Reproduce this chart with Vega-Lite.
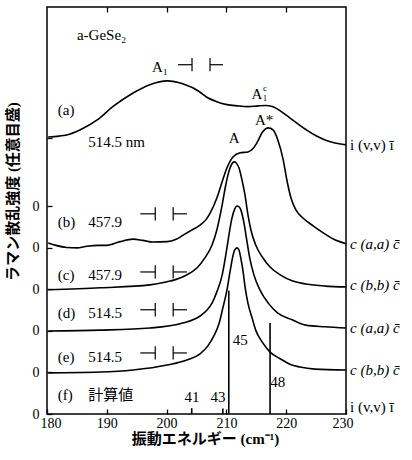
{
  "$schema": "https://vega.github.io/schema/vega-lite/v6.json",
  "width": 299,
  "height": 407,
  "autosize": {"type": "none"},
  "padding": {"left": 47, "top": 7, "right": 66, "bottom": 46},
  "config": {
    "view": {"stroke": "black", "strokeWidth": 1.5},
    "font": "Liberation Serif",
    "axis": {"domain": false, "grid": false, "labelFlush": false, "tickColor": "black", "tickWidth": 1.3, "labelColor": "black", "labelFont": "Liberation Serif", "labelFontSize": 14, "titleColor": "black", "titleFont": "Liberation Serif, Noto Sans CJK JP", "titleFontSize": 15, "titleFontWeight": "bold"},
    "text": {"color": "black"}
  },
  "datasets": {
    "spectra": [
      {"s": "a", "x": 180.2, "y": 6.67}, {"s": "a", "x": 182.0, "y": 6.69}, {"s": "a", "x": 183.3, "y": 6.72}, {"s": "a", "x": 185.5, "y": 6.84}, {"s": "a", "x": 188.4, "y": 7.08}, {"s": "a", "x": 191.0, "y": 7.40}, {"s": "a", "x": 194.4, "y": 7.73}, {"s": "a", "x": 197.2, "y": 7.93}, {"s": "a", "x": 200.1, "y": 8.02}, {"s": "a", "x": 202.7, "y": 7.95}, {"s": "a", "x": 205.5, "y": 7.76}, {"s": "a", "x": 206.6, "y": 7.64}, {"s": "a", "x": 208.4, "y": 7.52}, {"s": "a", "x": 210.1, "y": 7.45}, {"s": "a", "x": 211.8, "y": 7.42}, {"s": "a", "x": 213.6, "y": 7.40}, {"s": "a", "x": 215.3, "y": 7.42}, {"s": "a", "x": 216.5, "y": 7.43}, {"s": "a", "x": 217.8, "y": 7.40}, {"s": "a", "x": 219.0, "y": 7.30}, {"s": "a", "x": 220.5, "y": 7.14}, {"s": "a", "x": 222.0, "y": 6.98}, {"s": "a", "x": 223.5, "y": 6.83}, {"s": "a", "x": 225.0, "y": 6.70}, {"s": "a", "x": 226.5, "y": 6.60}, {"s": "a", "x": 228.0, "y": 6.53}, {"s": "a", "x": 230.0, "y": 6.48},
      {"s": "b", "x": 180.2, "y": 4.12}, {"s": "b", "x": 181.5, "y": 4.06}, {"s": "b", "x": 183.3, "y": 4.01}, {"s": "b", "x": 185.0, "y": 4.00}, {"s": "b", "x": 186.7, "y": 4.04}, {"s": "b", "x": 188.5, "y": 4.06}, {"s": "b", "x": 190.0, "y": 4.06}, {"s": "b", "x": 192.2, "y": 4.15}, {"s": "b", "x": 194.4, "y": 4.21}, {"s": "b", "x": 196.0, "y": 4.18}, {"s": "b", "x": 197.7, "y": 4.14}, {"s": "b", "x": 200.1, "y": 4.15}, {"s": "b", "x": 201.5, "y": 4.20}, {"s": "b", "x": 202.7, "y": 4.30}, {"s": "b", "x": 204.1, "y": 4.42}, {"s": "b", "x": 205.6, "y": 4.55}, {"s": "b", "x": 206.6, "y": 4.68}, {"s": "b", "x": 207.3, "y": 4.84}, {"s": "b", "x": 208.4, "y": 5.20}, {"s": "b", "x": 209.3, "y": 5.60}, {"s": "b", "x": 210.1, "y": 5.93}, {"s": "b", "x": 211.1, "y": 6.19}, {"s": "b", "x": 212.3, "y": 6.29}, {"s": "b", "x": 213.6, "y": 6.31}, {"s": "b", "x": 214.5, "y": 6.40}, {"s": "b", "x": 215.1, "y": 6.53}, {"s": "b", "x": 216.1, "y": 6.80}, {"s": "b", "x": 217.0, "y": 6.89}, {"s": "b", "x": 217.8, "y": 6.84}, {"s": "b", "x": 218.6, "y": 6.60}, {"s": "b", "x": 219.5, "y": 6.12}, {"s": "b", "x": 220.1, "y": 5.64}, {"s": "b", "x": 220.8, "y": 5.20}, {"s": "b", "x": 221.6, "y": 4.92}, {"s": "b", "x": 222.8, "y": 4.72}, {"s": "b", "x": 224.5, "y": 4.53}, {"s": "b", "x": 226.2, "y": 4.36}, {"s": "b", "x": 227.8, "y": 4.22}, {"s": "b", "x": 230.0, "y": 4.10},
      {"s": "c", "x": 180.2, "y": 2.99}, {"s": "c", "x": 188.9, "y": 3.04}, {"s": "c", "x": 197.2, "y": 3.11}, {"s": "c", "x": 200.6, "y": 3.20}, {"s": "c", "x": 203.1, "y": 3.33}, {"s": "c", "x": 205.1, "y": 3.52}, {"s": "c", "x": 206.4, "y": 3.76}, {"s": "c", "x": 207.6, "y": 4.07}, {"s": "c", "x": 208.4, "y": 4.43}, {"s": "c", "x": 209.3, "y": 5.04}, {"s": "c", "x": 209.9, "y": 5.52}, {"s": "c", "x": 210.4, "y": 5.83}, {"s": "c", "x": 210.9, "y": 6.02}, {"s": "c", "x": 211.3, "y": 6.07}, {"s": "c", "x": 211.6, "y": 6.05}, {"s": "c", "x": 212.1, "y": 5.93}, {"s": "c", "x": 212.6, "y": 5.64}, {"s": "c", "x": 213.1, "y": 5.28}, {"s": "c", "x": 213.6, "y": 4.80}, {"s": "c", "x": 214.1, "y": 4.43}, {"s": "c", "x": 214.9, "y": 4.07}, {"s": "c", "x": 216.0, "y": 3.78}, {"s": "c", "x": 217.3, "y": 3.54}, {"s": "c", "x": 219.0, "y": 3.35}, {"s": "c", "x": 221.1, "y": 3.20}, {"s": "c", "x": 223.3, "y": 3.13}, {"s": "c", "x": 226.5, "y": 3.08}, {"s": "c", "x": 230.0, "y": 3.06},
      {"s": "d", "x": 180.2, "y": 2.00}, {"s": "d", "x": 188.9, "y": 2.02}, {"s": "d", "x": 197.2, "y": 2.07}, {"s": "d", "x": 202.7, "y": 2.19}, {"s": "d", "x": 205.6, "y": 2.36}, {"s": "d", "x": 206.8, "y": 2.51}, {"s": "d", "x": 207.6, "y": 2.67}, {"s": "d", "x": 208.4, "y": 2.94}, {"s": "d", "x": 209.3, "y": 3.35}, {"s": "d", "x": 209.9, "y": 3.83}, {"s": "d", "x": 210.4, "y": 4.29}, {"s": "d", "x": 210.9, "y": 4.70}, {"s": "d", "x": 211.4, "y": 4.94}, {"s": "d", "x": 211.8, "y": 5.01}, {"s": "d", "x": 212.1, "y": 4.99}, {"s": "d", "x": 212.4, "y": 4.92}, {"s": "d", "x": 212.9, "y": 4.63}, {"s": "d", "x": 213.4, "y": 4.19}, {"s": "d", "x": 213.9, "y": 3.76}, {"s": "d", "x": 214.6, "y": 3.35}, {"s": "d", "x": 215.6, "y": 2.99}, {"s": "d", "x": 217.0, "y": 2.67}, {"s": "d", "x": 218.6, "y": 2.43}, {"s": "d", "x": 221.0, "y": 2.27}, {"s": "d", "x": 223.3, "y": 2.14}, {"s": "d", "x": 226.5, "y": 2.10}, {"s": "d", "x": 230.0, "y": 2.07},
      {"s": "e", "x": 180.2, "y": 0.99}, {"s": "e", "x": 188.9, "y": 1.01}, {"s": "e", "x": 194.4, "y": 1.06}, {"s": "e", "x": 200.1, "y": 1.18}, {"s": "e", "x": 203.4, "y": 1.30}, {"s": "e", "x": 205.6, "y": 1.45}, {"s": "e", "x": 206.9, "y": 1.64}, {"s": "e", "x": 207.9, "y": 1.88}, {"s": "e", "x": 208.8, "y": 2.19}, {"s": "e", "x": 209.4, "y": 2.55}, {"s": "e", "x": 210.1, "y": 2.99}, {"s": "e", "x": 210.6, "y": 3.42}, {"s": "e", "x": 211.1, "y": 3.81}, {"s": "e", "x": 211.4, "y": 3.95}, {"s": "e", "x": 211.8, "y": 4.00}, {"s": "e", "x": 212.1, "y": 3.95}, {"s": "e", "x": 212.4, "y": 3.76}, {"s": "e", "x": 212.8, "y": 3.42}, {"s": "e", "x": 213.1, "y": 3.08}, {"s": "e", "x": 213.6, "y": 2.67}, {"s": "e", "x": 214.3, "y": 2.31}, {"s": "e", "x": 214.9, "y": 2.02}, {"s": "e", "x": 216.0, "y": 1.73}, {"s": "e", "x": 217.3, "y": 1.49}, {"s": "e", "x": 219.0, "y": 1.33}, {"s": "e", "x": 220.6, "y": 1.20}, {"s": "e", "x": 222.3, "y": 1.13}, {"s": "e", "x": 224.8, "y": 1.08}, {"s": "e", "x": 230.0, "y": 1.06}
    ],
    "sticks": [
      {"x": 204.2, "y": 0, "h": 0.14}, {"x": 209.4, "y": 0, "h": 0.13}, {"x": 210.4, "y": 0, "h": 2.97}, {"x": 217.3, "y": 0, "h": 2.19}
    ],
    "brackets": [
      {"x": 201.9, "x2": 204.25, "y": 8.41, "y2": 8.41}, {"x": 204.25, "x2": 204.25, "y": 8.25, "y2": 8.57}, {"x": 207.26, "x2": 207.26, "y": 8.25, "y2": 8.57}, {"x": 207.26, "x2": 209.43, "y": 8.41, "y2": 8.41},
      {"x": 195.6, "x2": 198.1, "y": 4.82, "y2": 4.82}, {"x": 198.1, "x2": 198.1, "y": 4.66, "y2": 4.98}, {"x": 201.1, "x2": 201.1, "y": 4.66, "y2": 4.98}, {"x": 201.1, "x2": 203.4, "y": 4.82, "y2": 4.82},
      {"x": 195.6, "x2": 198.1, "y": 3.42, "y2": 3.42}, {"x": 198.1, "x2": 198.1, "y": 3.26, "y2": 3.58}, {"x": 201.1, "x2": 201.1, "y": 3.26, "y2": 3.58}, {"x": 201.1, "x2": 203.4, "y": 3.42, "y2": 3.42},
      {"x": 195.6, "x2": 198.1, "y": 2.51, "y2": 2.51}, {"x": 198.1, "x2": 198.1, "y": 2.35, "y2": 2.67}, {"x": 201.1, "x2": 201.1, "y": 2.35, "y2": 2.67}, {"x": 201.1, "x2": 203.4, "y": 2.51, "y2": 2.51},
      {"x": 195.6, "x2": 198.1, "y": 1.47, "y2": 1.47}, {"x": 198.1, "x2": 198.1, "y": 1.31, "y2": 1.63}, {"x": 201.1, "x2": 201.1, "y": 1.31, "y2": 1.63}, {"x": 201.1, "x2": 203.4, "y": 1.47, "y2": 1.47}
    ],
    "leftText": [
      {"x": 185.0, "y": 9.13, "t": "a-GeSe₂"},
      {"x": 181.8, "y": 7.33, "t": "(a)"}, {"x": 186.9, "y": 6.55, "t": "514.5 nm"},
      {"x": 181.8, "y": 4.63, "t": "(b)"}, {"x": 186.9, "y": 4.63, "t": "457.9"},
      {"x": 181.8, "y": 3.35, "t": "(c)"}, {"x": 186.9, "y": 3.35, "t": "457.9"},
      {"x": 181.8, "y": 2.43, "t": "(d)"}, {"x": 186.9, "y": 2.43, "t": "514.5"},
      {"x": 181.8, "y": 1.37, "t": "(e)"}, {"x": 186.9, "y": 1.37, "t": "514.5"},
      {"x": 181.8, "y": 0.46, "t": "(f)"}, {"x": 186.9, "y": 0.46, "t": "計算値"}
    ],
    "centerText": [
      {"x": 198.9, "y": 8.36, "t": "A₁"}, {"x": 215.1, "y": 7.71, "t": "A"}, {"x": 211.3, "y": 6.65, "t": "A"}, {"x": 216.3, "y": 7.08, "t": "A*"},
      {"x": 204.25, "y": 0.41, "t": "41"}, {"x": 208.6, "y": 0.41, "t": "43"}, {"x": 212.3, "y": 1.78, "t": "45"}, {"x": 218.6, "y": 0.77, "t": "48"}
    ],
    "smallText": [
      {"x": 216.45, "y": 7.85, "t": "c"}, {"x": 216.45, "y": 7.62, "t": "1"}
    ],
    "rightItalic": [
      {"x": 230, "y": 4.10, "t": "c (a,a) c̄"}, {"x": 230, "y": 3.11, "t": "c (b,b) c̄"}, {"x": 230, "y": 2.07, "t": "c (a,a) c̄"}, {"x": 230, "y": 1.06, "t": "c (b,b) c̄"}
    ],
    "rightRoman": [
      {"x": 230, "y": 6.48, "t": "i (v,v) ī"}, {"x": 230, "y": 0.17, "t": "i (v,v) ī"}
    ]
  },
  "layer": [
    {
      "data": {"name": "spectra"},
      "mark": {"type": "line", "color": "black", "strokeWidth": 1.6, "interpolate": "monotone"},
      "encoding": {
        "x": {"field": "x", "type": "quantitative", "scale": {"domain": [180, 230], "nice": false, "zero": false},
          "axis": {"orient": "bottom", "values": [180, 190, 200, 210, 220, 230], "format": "d", "tickSize": -5, "labelPadding": 7, "labelFlush": true, "labelFlushOffset": 7, "title": "振動エネルギー (cm⁻¹)", "titleX": 158, "titleY": 24, "titleBaseline": "middle", "titleAlign": "center"}},
        "y": {"field": "y", "type": "quantitative", "scale": {"domain": [0, 9.8], "nice": false, "zero": false},
          "axis": {"values": [0, 1, 2, 3, 4, 5, 6.65], "labelExpr": "datum.value < 6 ? '0' : ''", "tickSize": -5, "labelPadding": 13, "title": "ラマン散乱強度 (任意目盛)", "titleX": -35, "titleY": 184, "titleBaseline": "middle", "titleAlign": "center", "titleAngle": -90}},
        "detail": {"field": "s"}
      }
    },
    {
      "data": {"name": "sticks"},
      "mark": {"type": "rule", "color": "black", "strokeWidth": 1.6},
      "encoding": {
        "x": {"field": "x", "type": "quantitative", "axis": {"orient": "top", "values": [190, 200, 210, 220], "labels": false, "tickSize": -5, "title": null}},
        "y": {"field": "y", "type": "quantitative"},
        "y2": {"field": "h"}
      }
    },
    {
      "data": {"name": "brackets"},
      "mark": {"type": "rule", "color": "black", "strokeWidth": 1.2},
      "encoding": {
        "x": {"field": "x", "type": "quantitative", "axis": null},
        "x2": {"field": "x2"},
        "y": {"field": "y", "type": "quantitative"},
        "y2": {"field": "y2"}
      }
    },
    {
      "data": {"name": "leftText"},
      "mark": {"type": "text", "align": "left", "baseline": "middle", "fontSize": 15, "font": "Liberation Serif, Noto Sans CJK JP"},
      "encoding": {
        "x": {"field": "x", "type": "quantitative", "axis": null},
        "y": {"field": "y", "type": "quantitative"},
        "text": {"field": "t"}
      }
    },
    {
      "data": {"name": "centerText"},
      "mark": {"type": "text", "align": "center", "baseline": "middle", "fontSize": 15},
      "encoding": {
        "x": {"field": "x", "type": "quantitative", "axis": null},
        "y": {"field": "y", "type": "quantitative"},
        "text": {"field": "t"}
      }
    },
    {
      "data": {"name": "smallText"},
      "mark": {"type": "text", "align": "center", "baseline": "middle", "fontSize": 9},
      "encoding": {
        "x": {"field": "x", "type": "quantitative", "axis": null},
        "y": {"field": "y", "type": "quantitative"},
        "text": {"field": "t"}
      }
    },
    {
      "data": {"name": "rightItalic"},
      "mark": {"type": "text", "align": "left", "baseline": "middle", "fontSize": 15, "fontStyle": "italic", "dx": 4},
      "encoding": {
        "x": {"field": "x", "type": "quantitative", "axis": null},
        "y": {"field": "y", "type": "quantitative"},
        "text": {"field": "t"}
      }
    },
    {
      "data": {"name": "rightRoman"},
      "mark": {"type": "text", "align": "left", "baseline": "middle", "fontSize": 15, "dx": 4},
      "encoding": {
        "x": {"field": "x", "type": "quantitative", "axis": null},
        "y": {"field": "y", "type": "quantitative"},
        "text": {"field": "t"}
      }
    }
  ],
  "resolve": {"axis": {"x": "independent"}}
}
